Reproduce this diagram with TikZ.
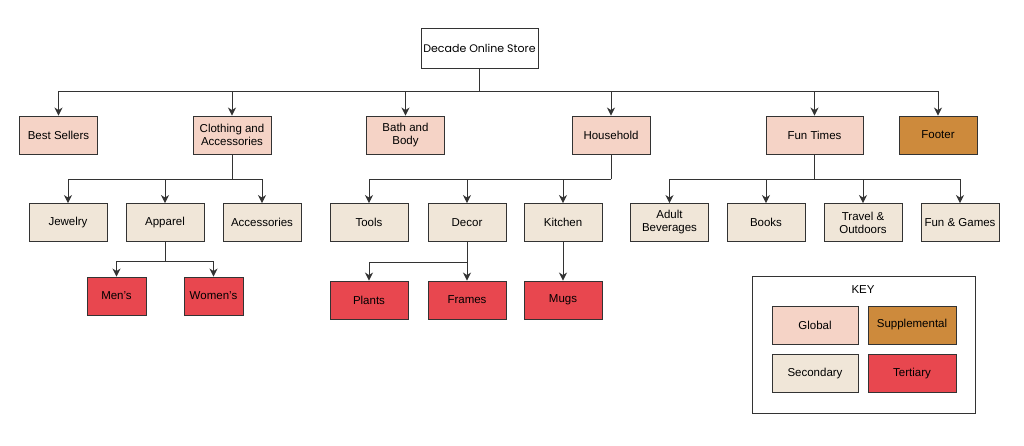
\documentclass[tikz,border=0pt]{standalone}
\usepackage{fontspec}
\setmainfont{Liberation Sans}
\newfontfamily\titlefont{Poppins}
\usepackage{xcolor}
\usepackage{tikz}
\usetikzlibrary{shapes.geometric, arrows, arrows.meta}

\definecolor{globalc}{HTML}{F5D3C6}
\definecolor{supplc}{HTML}{CD8A3C}
\definecolor{secondc}{HTML}{F0E6D8}
\definecolor{tertc}{HTML}{E8474F}
\definecolor{linec}{HTML}{333333}

\tikzset{
  box/.style={draw=linec, line width=0.9pt, rectangle, minimum width=78pt, minimum height=38pt,
    align=center, inner sep=1pt, font=\fontsize{11.5}{13}\selectfont},
  global/.style={box, fill=globalc},
  suppl/.style={box, fill=supplc},
  second/.style={box, fill=secondc},
  tert/.style={box, fill=tertc},
  conn/.style={draw=linec, line width=0.9pt},
  arr/.style={conn, -{Stealth[length=8pt, width=8pt, inset=2.5pt]}},
}

\begin{document}
\begin{tikzpicture}[x=1pt, y=-1pt]
        \useasboundingbox (0,0) rectangle (1024,445);

        % top
        \node[box, fill=white, minimum width=117pt, minimum height=40pt, font=\titlefont\fontsize{11}{13}\selectfont] (store) at (479.5,48) {Decade Online Store};

        % first level
        \node[global] (best) at (58.5,135) {Best Sellers};
        \node[global] (cloth) at (232,135) {Clothing and\\Accessories};
        \node[global] (bath) at (405.5,135) {Bath and\\Body};
        \node[global] (house) at (611,135) {Household};
        \node[global, minimum width=97pt] (fun) at (814.5,135) {Fun Times};
        \node[suppl] (footer) at (938,135) {Footer};

        % second level
        \node[second] (jewel) at (68,222.5) {Jewelry};
        \node[second] (apparel) at (165,222.5) {Apparel};
        \node[second] (access) at (262,222.5) {Accessories};
        \node[second] (tools) at (369,222.5) {Tools};
        \node[second] (decor) at (467,222.5) {Decor};
        \node[second] (kitchen) at (563,222.5) {Kitchen};
        \node[second] (adult) at (669.5,222.5) {Adult\\Beverages};
        \node[second] (books) at (766,222.5) {Books};
        \node[second] (travel) at (863,222.5) {Travel \&\\Outdoors};
        \node[second] (games) at (960,222.5) {Fun \& Games};

        % third level
        \node[tert, minimum width=59pt] (mens) at (116.5,296) {Men's};
        \node[tert, minimum width=59pt] (womens) at (213.5,296) {Women's};
        \node[tert] (plants) at (369,300) {Plants};
        \node[tert] (frames) at (467,300) {Frames};
        \node[tert] (mugs) at (563,300) {Mugs};

        % bus points
        \coordinate (topbus) at (479.5,91);
        \coordinate (clothbus) at (232,179);
        \coordinate (housebus) at (611,179);
        \coordinate (funbus) at (814.5,179);
        \coordinate (appbus) at (165,261);
        \coordinate (decorbus) at (467,262);

        \draw[conn] (store) -- (topbus);
        \draw[arr] (topbus) -| (best);
        \draw[arr] (topbus) -| (cloth);
        \draw[arr] (topbus) -| (bath);
        \draw[arr] (topbus) -| (house);
        \draw[arr] (topbus) -| (fun);
        \draw[arr] (topbus) -| (footer);

        \draw[conn] (cloth) -- (clothbus);
        \draw[arr] (clothbus) -| (jewel);
        \draw[arr] (clothbus) -| (apparel);
        \draw[arr] (clothbus) -| (access);

        \draw[conn] (house) -- (housebus);
        \draw[arr] (housebus) -| (tools);
        \draw[arr] (housebus) -| (decor);
        \draw[arr] (housebus) -| (kitchen);

        \draw[conn] (fun) -- (funbus);
        \draw[arr] (funbus) -| (adult);
        \draw[arr] (funbus) -| (books);
        \draw[arr] (funbus) -| (travel);
        \draw[arr] (funbus) -| (games);

        \draw[conn] (apparel) -- (appbus);
        \draw[arr] (appbus) -| (mens);
        \draw[arr] (appbus) -| (womens);

        \draw[conn] (decor) -- (decorbus);
        \draw[arr] (decorbus) -| (plants);
        \draw[arr] (decorbus) -- (frames);
        \draw[arr] (kitchen) -- (mugs);

        % key
        \node[draw=linec, line width=0.9pt, minimum width=223pt, minimum height=137pt] (keybox) at (863.5,344.5) {};
        \node[font=\fontsize{11.5}{13}\selectfont] (keytitle) at (863,290) {KEY};
        \node[global, minimum width=86pt] (kglobal) at (815,325) {Global};
        \node[suppl, minimum width=88pt] (ksuppl) at (912,325) {Supplemental};
        \node[second, minimum width=86pt] (ksecond) at (815,373.5) {Secondary};
        \node[tert, minimum width=88pt] (ktert) at (912,373.5) {Tertiary};
    \end{tikzpicture}
\end{document}
